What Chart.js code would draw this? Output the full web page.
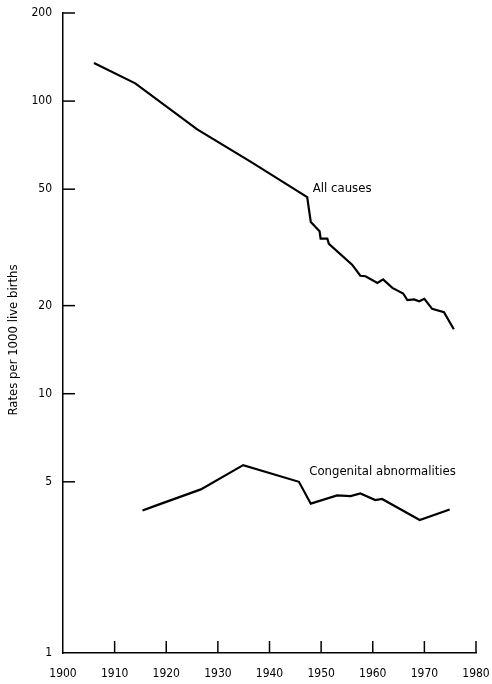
<!DOCTYPE html>
<html>
<head>
<meta charset="utf-8">
<script src="https://cdn.jsdelivr.net/npm/chart.js@4/dist/chart.umd.min.js"></script>
<style>
  html, body { margin: 0; padding: 0; background: #fff; }
  canvas { display: block; }
</style>
</head>
<body>
<canvas id="chart" width="492" height="684"></canvas>
<script>
// values
var allYears = [1906, 1914, 1926, 1936.4, 1947.3, 1948.0, 1949.7, 1949.9, 1951.2, 1951.5, 1956.0, 1957.6, 1958.6, 1960.9, 1962.0, 1963.8, 1965.9, 1966.7, 1968.0, 1969.0, 1970.0, 1971.5, 1973.8, 1975.7];
var allRates = [135, 115, 80, 62, 47, 38.6, 35.9, 33.9, 33.9, 32.5, 27.6, 25.3, 25.2, 23.9, 24.6, 23.0, 22.0, 20.9, 21.0, 20.7, 21.1, 19.5, 19.0, 16.6];

var congYears = [1915.4, 1917.7, 1926.7, 1934.9, 1945.7, 1948.0, 1953.1, 1955.7, 1957.6, 1960.5, 1961.8, 1969.1, 1974.9];
var congRates = [3.99, 4.13, 4.71, 5.70, 5.00, 4.21, 4.49, 4.47, 4.56, 4.33, 4.37, 3.70, 4.02];

var yTickValues = [1, 5, 10, 20, 50, 100, 200];
var yTickLabels = ['1', '5', '10', '20', '50', '100', '200'];
var xTickValues = [1900, 1910, 1920, 1930, 1940, 1950, 1960, 1970, 1980];

// the original axis is broken below 5: the "1" level sits at the axis floor
var yFloor = 1.3;

var yTitle = 'Rates per 1000 live births';
var seriesLabels = ['All causes', 'Congenital abnormalities'];
var labelAnchors = [[1948.4, 50.2], [1947.7, 5.4]];

function toPoints(xs, ys) {
  var pts = [];
  for (var i = 0; i < xs.length; i++) pts.push({x: xs[i], y: ys[i]});
  return pts;
}

var family = "'DejaVu Sans Condensed', 'DejaVu Sans', sans-serif";
var tickFont = {family: family, size: 12};

// inward tick marks, axis title and series labels
var decorPlugin = {
  id: 'decor',
  afterDraw: function (chart) {
    var ctx = chart.ctx;
    var xs = chart.scales.x, ys = chart.scales.y;
    var area = chart.chartArea;
    ctx.save();
    ctx.strokeStyle = '#000';
    ctx.lineWidth = 1.5;
    ys.ticks.forEach(function (t) {
      var py = ys.getPixelForValue(t.value);
      if (Math.abs(py - area.bottom) < 1) return;
      ctx.beginPath();
      ctx.moveTo(area.left, py);
      ctx.lineTo(area.left + 12, py);
      ctx.stroke();
    });
    xs.ticks.forEach(function (t) {
      var px = xs.getPixelForValue(t.value);
      if (Math.abs(px - area.left) < 1) return;
      ctx.beginPath();
      ctx.moveTo(px, area.bottom);
      ctx.lineTo(px, area.bottom - 12);
      ctx.stroke();
    });
    ctx.fillStyle = '#000';
    ctx.font = '13px ' + family;
    ctx.textAlign = 'left';
    ctx.textBaseline = 'middle';
    for (var i = 0; i < seriesLabels.length; i++) {
      ctx.fillText(seriesLabels[i], xs.getPixelForValue(labelAnchors[i][0]), ys.getPixelForValue(labelAnchors[i][1]));
    }
    ctx.translate(14, 340);
    ctx.rotate(-Math.PI / 2);
    ctx.textAlign = 'center';
    ctx.fillText(yTitle, 0, 0);
    ctx.restore();
  }
};

new Chart(document.getElementById('chart'), {
  type: 'line',
  data: {
    datasets: [
      {label: seriesLabels[0], data: toPoints(allYears, allRates)},
      {label: seriesLabels[1], data: toPoints(congYears, congRates)}
    ]
  },
  options: {
    responsive: false,
    animation: false,
    devicePixelRatio: 1,
    layout: {padding: {top: 13, right: 16, left: 0, bottom: 0}},
    elements: {
      line: {borderColor: '#000', borderWidth: 2.2, tension: 0, fill: false},
      point: {radius: 0}
    },
    plugins: {
      legend: {display: false},
      tooltip: {enabled: false}
    },
    scales: {
      x: {
        type: 'linear',
        min: 1900, max: 1980,
        afterFit: function (s) {
          s.height = 31;
          s.paddingLeft = 0; s.paddingRight = 0;
        },
        afterBuildTicks: function (s) { s.ticks = xTickValues.map(function (v) { return {value: v}; }); },
        grid: {display: true, drawOnChartArea: false, drawTicks: false},
        border: {display: true, color: '#000', width: 1.5},
        ticks: {color: '#000', font: tickFont, padding: 14, maxRotation: 0,
          callback: function (v) { return String(v); }}
      },
      y: {
        type: 'logarithmic',
        min: yFloor, max: 200,
        afterFit: function (s) {
          s.width = 63;
          s.paddingTop = 0; s.paddingBottom = 0;
        },
        afterBuildTicks: function (s) {
          s.ticks = yTickValues.map(function (v) { return {value: v === 1 ? yFloor : v}; });
        },
        grid: {display: true, drawOnChartArea: false, drawTicks: false},
        border: {display: true, color: '#000', width: 1.5},
        ticks: {color: '#000', font: tickFont, padding: 11,
          callback: function (v) {
            if (v === yFloor) return yTickLabels[0];
            var i = yTickValues.indexOf(v);
            return i >= 0 ? yTickLabels[i] : '';
          }}
      }
    }
  },
  plugins: [decorPlugin]
});
</script>
</body>
</html>
